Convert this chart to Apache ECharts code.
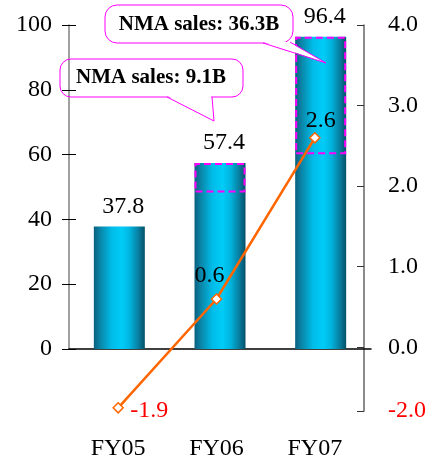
<!DOCTYPE html>
<html><head><meta charset="utf-8">
<script src="https://cdn.jsdelivr.net/npm/echarts@6/dist/echarts.min.js"></script>
<style>html,body{margin:0;padding:0;background:#fff}#c{width:429px;height:461px}</style>
</head><body><div id="c"></div>
<script>
const categories = ['FY05', 'FY06', 'FY07'];
const salesValues = [37.8, 57.4, 96.4];
const nmaSales = [null, 9.1, 36.3];
const profitValues = [-1.9, 0.6, 2.6];
const leftTicks = [0, 20, 40, 60, 80, 100];
const rightTicks = [4, 3, 2, 1, 0, -2];
const calloutTexts = ['NMA sales: 9.1B', 'NMA sales: 36.3B'];

// right axis is broken below zero: negative part compressed
const NEG_SCALE = 32 / 81;
const toAxis = v => (v < 0 ? v * NEG_SCALE : v);
const fromAxis = v => (v < 0 ? v / NEG_SCALE : v);

const nmaBase = salesValues.map((v, i) => (nmaSales[i] == null ? null : +(v - nmaSales[i]).toFixed(1)));

const FONT = '"Liberation Serif", "Times New Roman", serif';
const chart = echarts.init(document.getElementById('c'), null, { renderer: 'canvas' });

const barGradient = new echarts.graphic.LinearGradient(0, 0, 1, 0, [
  { offset: 0, color: '#0B5F7E' },
  { offset: 0.12, color: '#0A84A6' },
  { offset: 0.35, color: '#00BCE8' },
  { offset: 0.55, color: '#00CCF8' },
  { offset: 0.7, color: '#00B6E0' },
  { offset: 0.88, color: '#087C9E' },
  { offset: 1, color: '#045068' }
]);

const lineLabelStyle = [
  { offset: [31, 3], color: '#FF0000' },
  { offset: [-7, -23], color: '#000' },
  { offset: [6, -17], color: '#000' }
];

const option = {
  animation: false,
  backgroundColor: '#fff',
  grid: [
    { left: 69, right: 58, top: 25, bottom: 112 },
    { left: 69, right: 58, top: 25, bottom: 48 }
  ],
  xAxis: [
    {
      gridIndex: 0, type: 'category', data: categories,
      axisLine: { lineStyle: { color: '#000', width: 1.5 } },
      axisTick: { inside: true, length: 8, lineStyle: { color: '#555' } },
      axisLabel: { show: false }
    },
    {
      gridIndex: 1, type: 'category', data: categories,
      axisLine: { show: false, onZero: false },
      axisTick: { show: false },
      axisLabel: { margin: 26, fontSize: 24, fontFamily: FONT, color: '#000' }
    }
  ],
  yAxis: [
    {
      gridIndex: 0, type: 'value', position: 'left', min: leftTicks[0], max: leftTicks[leftTicks.length - 1], interval: 20,
      axisLine: { show: true, lineStyle: { color: '#808080', width: 1.5 } },
      axisTick: { show: true, length: 7, lineStyle: { color: '#000' } },
      axisLabel: { margin: 17, fontSize: 24, fontFamily: FONT, color: '#000' },
      splitLine: { show: false }
    },
    {
      gridIndex: 0, type: 'value', position: 'left', min: leftTicks[0], max: leftTicks[leftTicks.length - 1], interval: 20,
      axisLine: { show: false },
      axisTick: { show: true, inside: true, length: 7, lineStyle: { color: '#000' } },
      axisLabel: { show: false },
      splitLine: { show: false }
    },
    {
      gridIndex: 1, type: 'value', position: 'right', min: toAxis(-2), max: 4,
      axisLine: { show: true, lineStyle: { color: '#666', width: 1.5 } },
      axisTick: { show: true, inside: true, length: 7, lineStyle: { color: '#333' }, customValues: rightTicks.map(toAxis) },
      axisLabel: {
        customValues: rightTicks.map(toAxis),
        formatter: v => fromAxis(v).toFixed(1),
        color: v => (Number(v) < 0 ? '#FF0000' : '#000'),
        margin: 24, fontSize: 24, fontFamily: FONT
      },
      splitLine: { show: false }
    }
  ],
  series: [
    {
      type: 'bar', xAxisIndex: 0, yAxisIndex: 0, data: salesValues, barWidth: 51, barGap: '-100%',
      itemStyle: { color: barGradient },
      label: { show: true, position: 'top', distance: 8, offset: [4, 0], fontSize: 24, fontFamily: FONT, color: '#000' },
      z: 2
    },
    {
      type: 'bar', xAxisIndex: 0, yAxisIndex: 0, stack: 'nma', data: nmaBase, barWidth: 51, barGap: '-100%',
      itemStyle: { color: 'rgba(0,0,0,0)' }, silent: true, z: 3
    },
    {
      type: 'bar', xAxisIndex: 0, yAxisIndex: 0, stack: 'nma', data: nmaSales, barWidth: 51, barGap: '-100%',
      itemStyle: { color: 'rgba(0,0,0,0)', borderColor: '#FF00FF', borderWidth: 2, borderType: [7, 4] },
      z: 3
    },
    {
      type: 'line', xAxisIndex: 1, yAxisIndex: 2,
      data: profitValues.map((v, i) => ({
        value: toAxis(v),
        label: {
          show: true, position: 'inside', offset: lineLabelStyle[i].offset, color: lineLabelStyle[i].color,
          formatter: () => profitValues[i].toFixed(1)
        }
      })),
      lineStyle: { color: '#FF6600', width: 2.5 },
      symbol: 'diamond', symbolSize: 10,
      itemStyle: { color: '#fff', borderColor: '#FF6600', borderWidth: 1.5 },
      label: { fontSize: 24, fontFamily: FONT },
      z: 10
    }
  ],
  graphic: [
    // callout 1
    { type: 'rect', z: 100, shape: { x: 60, y: 59, width: 183, height: 38, r: 11 }, style: { fill: 'rgba(0,0,0,0)', stroke: '#FF00FF', lineWidth: 1 } },
    { type: 'polygon', z: 101, shape: { points: [[168, 96], [214, 121], [211, 96]] }, style: { fill: '#fff' } },
    { type: 'polyline', z: 102, shape: { points: [[167, 97], [214, 121], [212, 97]] }, style: { fill: null, stroke: '#FF00FF', lineWidth: 1 } },
    { type: 'text', z: 103, style: { text: calloutTexts[0], x: 151, y: 78, textAlign: 'center', textVerticalAlign: 'middle', verticalAlign: 'middle', font: 'bold 21px ' + FONT, fill: '#000' } },
    // callout 2
    { type: 'rect', z: 100, shape: { x: 105, y: 5, width: 188, height: 38, r: 12 }, style: { fill: 'rgba(0,0,0,0)', stroke: '#FF00FF', lineWidth: 1 } },
    { type: 'polygon', z: 101, shape: { points: [[264, 42], [326, 63], [289, 42]] }, style: { fill: '#fff' } },
    { type: 'polyline', z: 102, shape: { points: [[263, 43], [326, 63], [290, 42]] }, style: { fill: null, stroke: '#FF00FF', lineWidth: 1 } },
    { type: 'text', z: 103, style: { text: calloutTexts[1], x: 199, y: 25, textAlign: 'center', textVerticalAlign: 'middle', verticalAlign: 'middle', font: 'bold 21px ' + FONT, fill: '#000' } }
  ]
};
chart.setOption(option);
</script>
</body></html>
